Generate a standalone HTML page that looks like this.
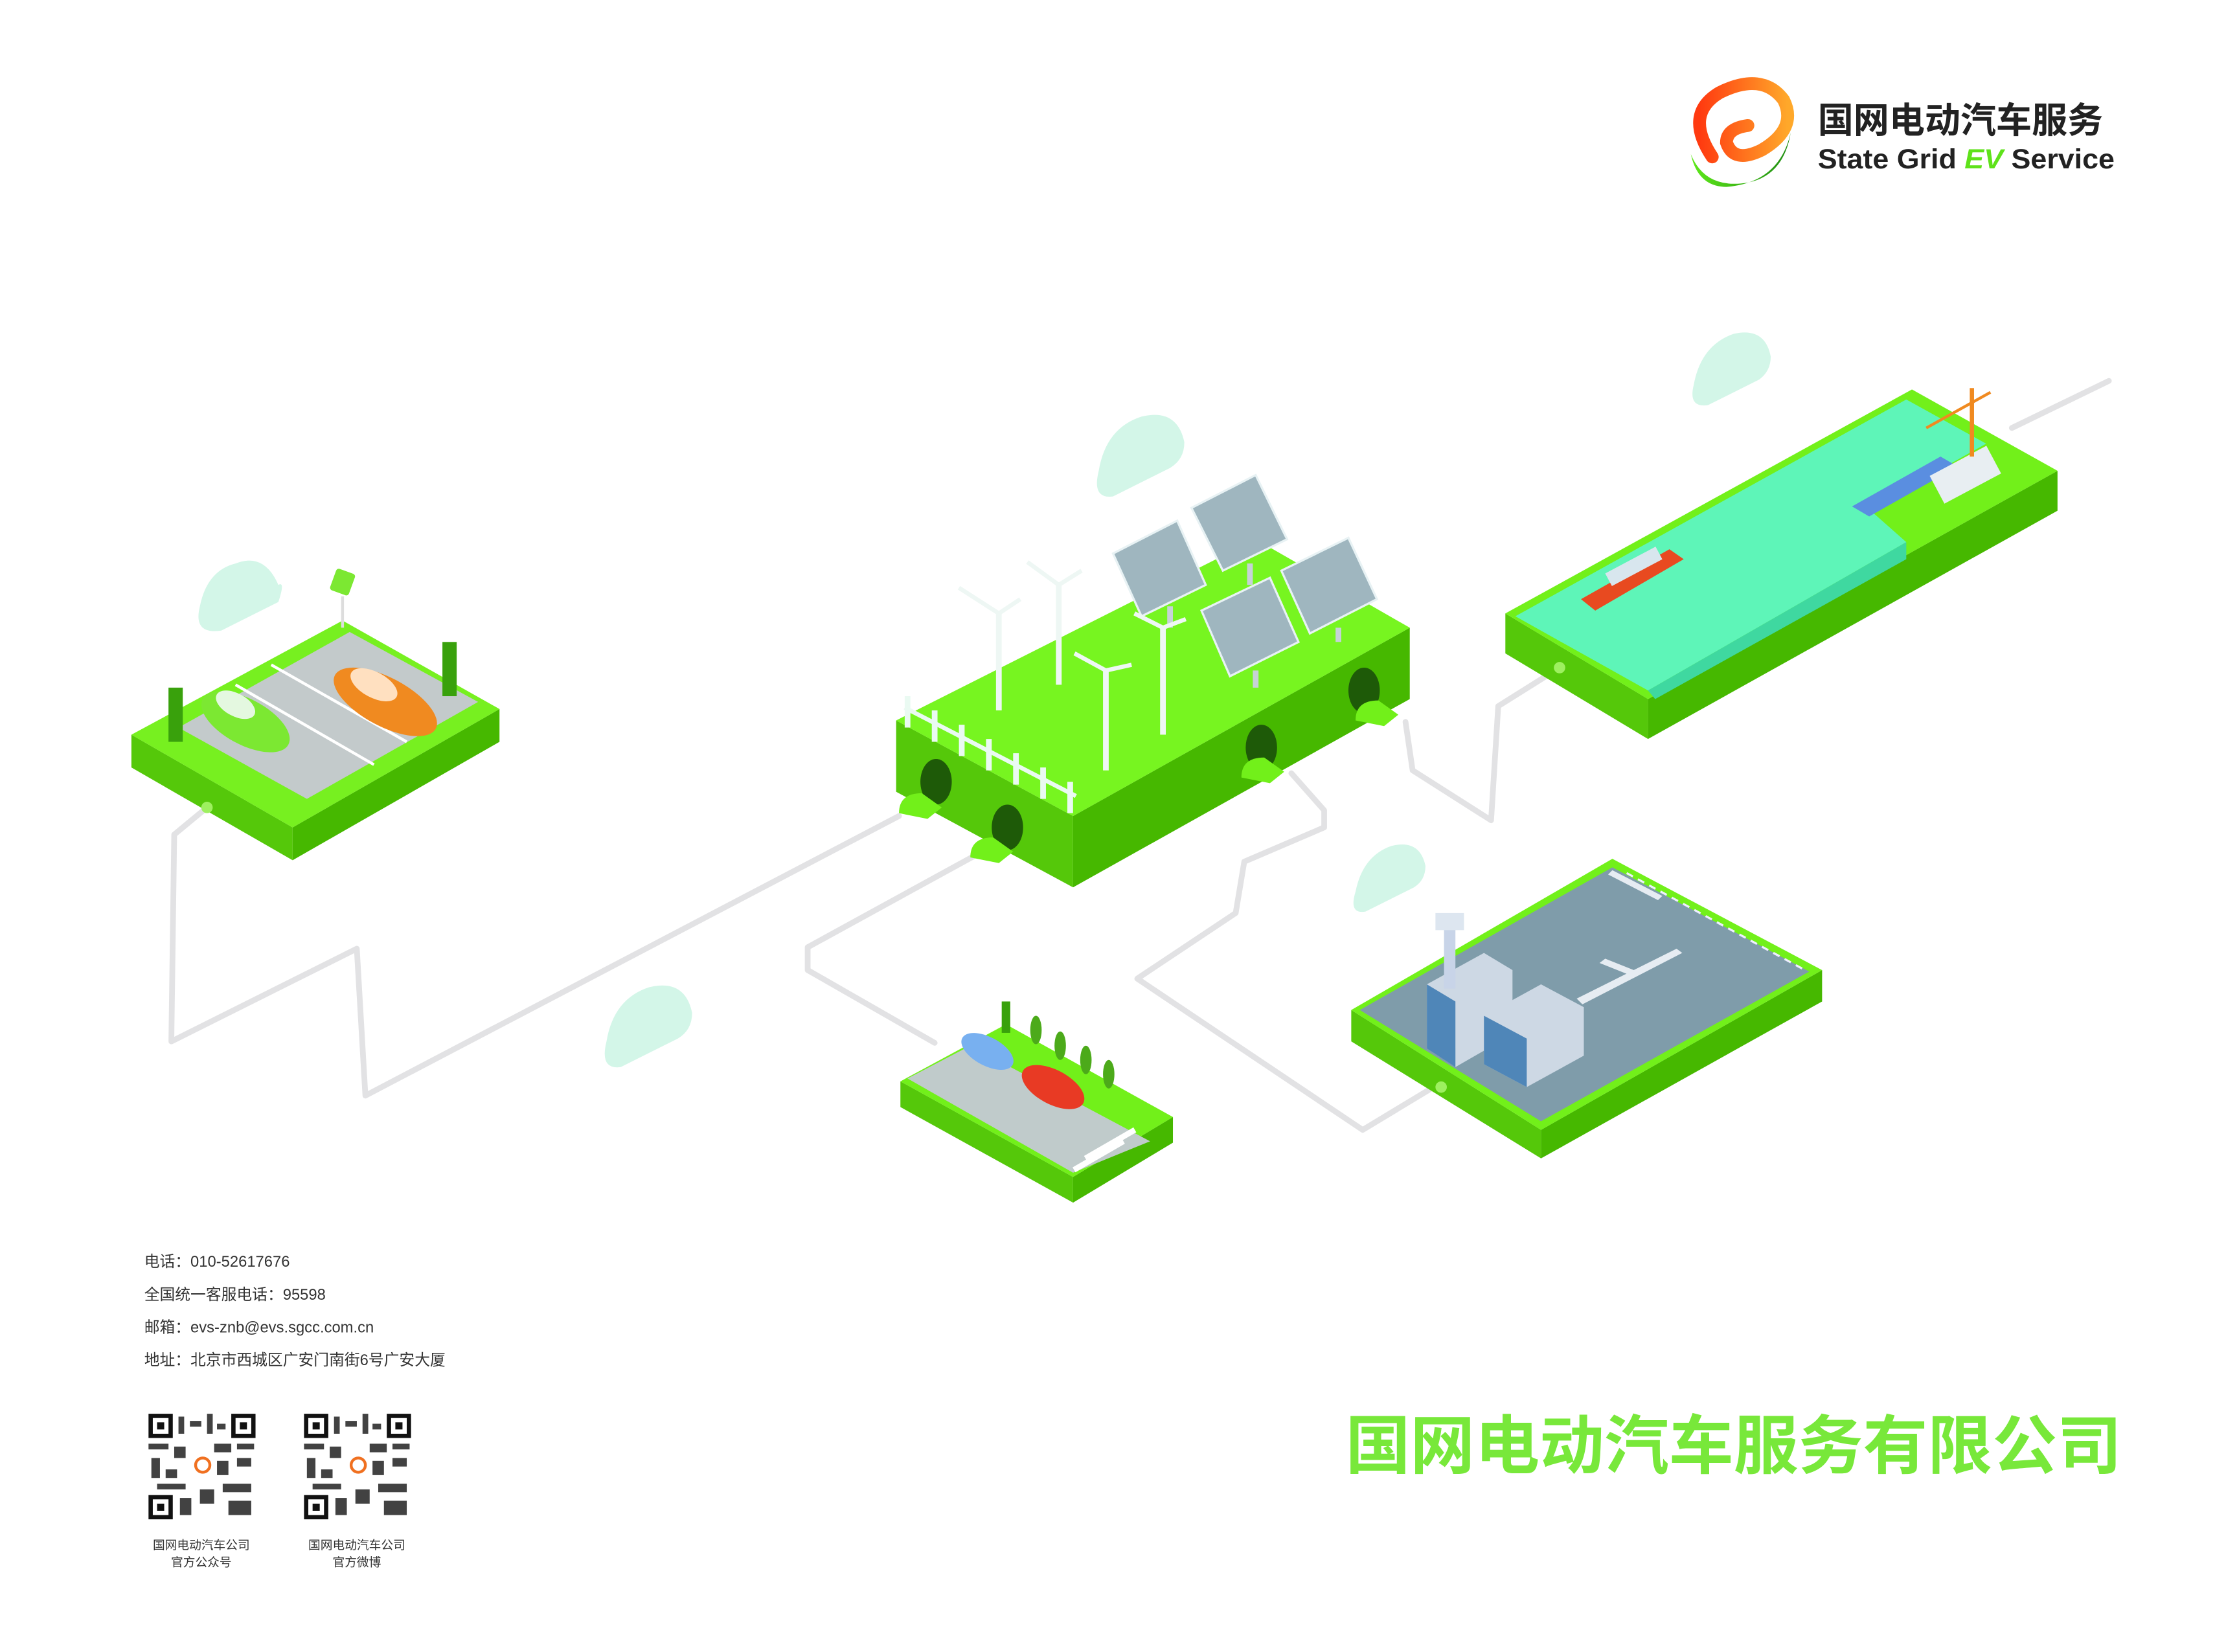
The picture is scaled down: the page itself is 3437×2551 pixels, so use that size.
<!DOCTYPE html>
<html><head><meta charset="utf-8"><style>
html,body{margin:0;padding:0;background:#fff;}
svg{display:block;}
text{font-family:"Liberation Sans","Noto Sans CJK SC",sans-serif;}
</style></head><body>
<svg width="3437" height="2551" viewBox="0 0 1560 1158" xmlns="http://www.w3.org/2000/svg">
<defs>
<linearGradient id="og" x1="0" x2="1"><stop offset="0" stop-color="#ff3a10"/><stop offset="1" stop-color="#ffa82a"/></linearGradient>
<linearGradient id="gg" x1="0" x2="1"><stop offset="0" stop-color="#5ee81a"/><stop offset="1" stop-color="#1e8c12"/></linearGradient>
</defs>
<rect width="1560" height="1158" fill="#fff"/>

<g fill="none" stroke="#e2e2e4" stroke-width="4" stroke-linejoin="round" stroke-linecap="round">
<path d="M145,566 L122,585 L120,730 L250,665 L256,768 L630,572"/>
<path d="M690,596 L566,664 L566,680 L655,731"/>
<path d="M905,542 L928,568 L928,580 L872,604 L866,640 L797,686 L955,792 L1008,760"/>
<path d="M985,506 L990,540 L1045,575 L1050,495 L1093,468"/>
<path d="M1410,300 L1478,267"/>
</g>

<g fill="#d3f6e8">
<path d="M140,425 q5,-25 25,-30 q20,-8 30,15 q5,-3 0,12 l-40,20 q-20,3 -15,-17z"/>
<path d="M770,330 q5,-30 30,-38 q25,-6 30,18 q0,12 -10,18 l-40,20 q-15,2 -10,-18z"/>
<path d="M1187,270 q5,-28 28,-36 q22,-5 26,16 q0,10 -8,16 l-36,18 q-14,2 -10,-14z"/>
<path d="M425,730 q5,-30 30,-38 q25,-6 30,18 q0,12 -10,18 l-40,20 q-15,2 -10,-18z"/>
<path d="M950,625 q5,-25 25,-32 q20,-5 24,14 q0,10 -8,15 l-34,17 q-12,2 -7,-14z"/>
</g>

<polygon points="92,515 205,580 205,603 92,538" fill="#55c80a"/>
<polygon points="205,580 350,497 350,520 205,603" fill="#46b800"/>
<polygon points="92,515 240,435 350,497 205,580" fill="#77f020"/>
<polygon points="125,510 245,443 335,492 215,560" fill="#c3cacb"/>
<line x1="165" y1="480" x2="262" y2="536" stroke="#fff" stroke-width="2"/>
<line x1="190" y1="466" x2="285" y2="520" stroke="#fff" stroke-width="2"/>
<g><ellipse cx="270" cy="492" rx="40" ry="17" fill="#f08a20" transform="rotate(28 270 492)"/><ellipse cx="262" cy="480" rx="18" ry="9" fill="#ffe0c0" transform="rotate(28 262 480)"/></g>
<g><ellipse cx="172" cy="506" rx="34" ry="16" fill="#7ce832" transform="rotate(28 172 506)"/><ellipse cx="165" cy="494" rx="15" ry="8" fill="#e4f8e0" transform="rotate(28 165 494)"/></g>
<rect x="118" y="482" width="10" height="38" fill="#39a10c"/><rect x="310" y="450" width="10" height="38" fill="#39a10c"/>
<rect x="233" y="400" width="14" height="16" rx="2" fill="#7ce832" transform="rotate(20 240 408)"/><line x1="240" y1="418" x2="240" y2="440" stroke="#ddd" stroke-width="2"/>
<circle cx="145" cy="566" r="4" fill="#9ef060"/>

<polygon points="628,505 752,572 752,622 628,555" fill="#55c80a"/>
<polygon points="752,572 988,440 988,490 752,622" fill="#46b800"/>
<polygon points="628,505 880,378 988,440 752,572" fill="#77f520"/>
<g stroke="#eafaf2" stroke-width="4">
<line x1="636" y1="488" x2="636" y2="510"/><line x1="655" y1="498" x2="655" y2="520"/><line x1="674" y1="508" x2="674" y2="530"/><line x1="693" y1="518" x2="693" y2="540"/><line x1="712" y1="528" x2="712" y2="550"/><line x1="731" y1="538" x2="731" y2="560"/><line x1="750" y1="548" x2="750" y2="570"/>
<line x1="634" y1="496" x2="754" y2="558" stroke-width="3"/>
</g>
<g fill="#1e5a08"><ellipse cx="656" cy="548" rx="11" ry="16"/><ellipse cx="706" cy="580" rx="11" ry="16"/><ellipse cx="884" cy="524" rx="11" ry="16"/><ellipse cx="956" cy="484" rx="11" ry="16"/></g>
<g fill="#72f01a"><path d="M630,570 q0,-14 16,-14 l14,10 l-10,8 z"/><path d="M680,601 q0,-14 16,-14 l14,10 l-10,8 z"/><path d="M870,545 q0,-14 16,-14 l14,10 l-10,8 z"/><path d="M950,505 q0,-14 16,-14 l14,10 l-10,8 z"/></g>
<g fill="#9fb6bf" stroke="#e8f2f4" stroke-width="1.5">
<polygon points="780,388 825,365 845,410 800,432"/>
<polygon points="835,356 880,333 902,378 857,400"/>
<polygon points="842,428 890,405 910,450 862,474"/>
<polygon points="898,400 945,377 965,420 918,444"/>
</g>
<g stroke="#c6d2d6" stroke-width="4"><line x1="820" y1="425" x2="820" y2="440"/><line x1="876" y1="395" x2="876" y2="410"/><line x1="880" y1="470" x2="880" y2="482"/><line x1="938" y1="440" x2="938" y2="450"/></g>
<g stroke="#eef7f4" stroke-width="4" fill="none">
<line x1="700" y1="430" x2="700" y2="498"/><line x1="742" y1="410" x2="742" y2="480"/><line x1="775" y1="470" x2="775" y2="540"/><line x1="815" y1="440" x2="815" y2="515"/>
<path d="M700,430 l-28,-18 M700,430 l15,-10 M742,410 l-22,-16 M742,410 l16,-10 M775,470 l-22,-12 M775,470 l18,-4 M815,440 l-20,-10 M815,440 l16,-6" stroke-width="3"/>
</g>

<polygon points="1055,430 1155,490 1155,518 1055,458" fill="#55c80a"/>
<polygon points="1155,490 1442,330 1442,358 1155,518" fill="#46b800"/>
<polygon points="1055,430 1340,273 1442,330 1155,490" fill="#72f01a"/>
<polygon points="1062,432 1336,280 1392,311 1310,357 1336,380 1155,484" fill="#5ef5b8"/>
<polygon points="1155,484 1336,380 1336,392 1160,490" fill="#3fd8a0"/>
<g><polygon points="1108,420 1170,385 1180,392 1118,428" fill="#e84a20"/><rect x="1125" y="392" width="40" height="10" fill="#d8e6ee" transform="rotate(-28 1145 397)"/></g>
<g><polygon points="1298,355 1360,320 1372,327 1310,362" fill="#5a8ee0"/><rect x="1355" y="322" width="45" height="22" fill="#e8eef2" transform="rotate(-28 1377 333)"/></g>
<line x1="1382" y1="272" x2="1382" y2="320" stroke="#f08a20" stroke-width="3"/><line x1="1350" y1="300" x2="1395" y2="275" stroke="#f08a20" stroke-width="2"/>
<circle cx="1093" cy="468" r="4" fill="#9ef060"/>

<polygon points="947,708 1080,792 1080,812 947,730" fill="#55c80a"/>
<polygon points="1080,792 1277,680 1277,702 1080,812" fill="#46b800"/>
<polygon points="947,708 1130,602 1277,680 1080,792" fill="#72f01a"/>
<polygon points="953,708 1130,608 1268,681 1080,786" fill="#7f9caa"/>
<line x1="1140" y1="612" x2="1265" y2="680" stroke="#eef" stroke-width="1.5" stroke-dasharray="5,4"/>
<g fill="#cdd8e4"><polygon points="1000,690 1040,668 1060,680 1060,725 1020,748 1000,735"/><polygon points="1040,712 1080,690 1110,706 1110,740 1070,762 1040,746"/></g>
<g fill="#4f86b8"><polygon points="1000,690 1020,702 1020,748 1000,735"/><polygon points="1040,712 1070,728 1070,762 1040,746"/></g>
<rect x="1012" y="648" width="8" height="45" fill="#c8d4e8"/><rect x="1006" y="640" width="20" height="12" fill="#dde6f0"/>
<g fill="#e6ecf2"><path d="M1105,700 l70,-35 l4,3 l-70,36z"/><path d="M1125,672 l25,10 l-4,3 l-25,-10z"/><path d="M1130,610 l35,18 l-3,3 l-35,-18z"/></g>
<circle cx="1010" cy="762" r="4" fill="#9ef060"/>

<polygon points="631,758 752,825 752,843 631,776" fill="#55c80a"/>
<polygon points="752,825 822,783 822,801 752,843" fill="#46b800"/>
<polygon points="631,758 705,718 822,783 752,825" fill="#72f01a"/>
<polygon points="636,756 680,733 806,800 752,822" fill="#c0cbcb"/>
<g fill="#fff"><rect x="758" y="800" width="40" height="4" transform="rotate(-30 778 802)"/><rect x="750" y="808" width="40" height="4" transform="rotate(-30 770 810)"/></g>
<ellipse cx="692" cy="737" rx="20" ry="10" fill="#78b0f0" transform="rotate(28 692 737)"/>
<ellipse cx="738" cy="762" rx="24" ry="12" fill="#e83a24" transform="rotate(28 738 762)"/>
<g fill="#4caa1a"><ellipse cx="726" cy="722" rx="4" ry="10"/><ellipse cx="743" cy="733" rx="4" ry="10"/><ellipse cx="761" cy="743" rx="4" ry="10"/><ellipse cx="777" cy="753" rx="4" ry="10"/></g>
<rect x="702" y="702" width="6" height="22" fill="#39a10c"/>

<g>
<path d="M1200,110 q-20,-30 5,-45 q30,-15 45,5 q10,20 -15,35 q-20,10 -25,-5 q0,-10 15,-12" fill="none" stroke="url(#og)" stroke-width="9" stroke-linecap="round"/>
<path d="M1185,108 q10,25 40,20 q25,-5 30,-35 q-8,35 -45,38 q-20,0 -25,-23z" fill="url(#gg)"/>
<text x="1274" y="93" font-size="25" font-weight="bold" fill="#222">国网电动汽车服务</text>
<text x="1274" y="118" font-size="19.5" font-weight="bold" fill="#222" textLength="208" lengthAdjust="spacingAndGlyphs">State Grid <tspan fill="#5ee21a" font-style="italic">EV</tspan> Service</text>
</g>

<g font-size="10.8" fill="#333">
<text x="101" y="888">电话：010-52617676</text>
<text x="101" y="911">全国统一客服电话：95598</text>
<text x="101" y="934">邮箱：evs-znb@evs.sgcc.com.cn</text>
<text x="101" y="957">地址：北京市西城区广安门南街6号广安大厦</text>
</g>
<g>
<g fill="#111">
<rect x="104" y="991" width="17" height="17"/><rect x="162" y="991" width="17" height="17"/><rect x="104" y="1048" width="17" height="17"/>
<rect x="213" y="991" width="17" height="17"/><rect x="271" y="991" width="17" height="17"/><rect x="213" y="1048" width="17" height="17"/>
</g>
<g fill="#fff"><rect x="107" y="994" width="11" height="11"/><rect x="165" y="994" width="11" height="11"/><rect x="107" y="1051" width="11" height="11"/><rect x="216" y="994" width="11" height="11"/><rect x="274" y="994" width="11" height="11"/><rect x="216" y="1051" width="11" height="11"/></g>
<g fill="#111"><rect x="110" y="997" width="5" height="5"/><rect x="168" y="997" width="5" height="5"/><rect x="110" y="1054" width="5" height="5"/><rect x="219" y="997" width="5" height="5"/><rect x="277" y="997" width="5" height="5"/><rect x="219" y="1054" width="5" height="5"/></g>
<g fill="#222" opacity="0.85">
<rect x="125" y="993" width="4" height="12"/><rect x="133" y="996" width="8" height="4"/><rect x="145" y="991" width="4" height="14"/><rect x="152" y="998" width="6" height="4"/>
<rect x="104" y="1012" width="14" height="4"/><rect x="122" y="1014" width="8" height="8"/><rect x="150" y="1012" width="12" height="6"/><rect x="166" y="1012" width="12" height="4"/>
<rect x="106" y="1022" width="6" height="14"/><rect x="116" y="1030" width="8" height="6"/><rect x="152" y="1024" width="8" height="10"/><rect x="166" y="1022" width="10" height="6"/>
<rect x="110" y="1040" width="20" height="4"/><rect x="140" y="1044" width="10" height="10"/><rect x="156" y="1040" width="20" height="6"/><rect x="126" y="1050" width="8" height="12"/><rect x="160" y="1052" width="16" height="10"/>
<rect x="234" y="993" width="4" height="12"/><rect x="242" y="996" width="8" height="4"/><rect x="254" y="991" width="4" height="14"/><rect x="261" y="998" width="6" height="4"/>
<rect x="213" y="1012" width="14" height="4"/><rect x="231" y="1014" width="8" height="8"/><rect x="259" y="1012" width="12" height="6"/><rect x="275" y="1012" width="12" height="4"/>
<rect x="215" y="1022" width="6" height="14"/><rect x="225" y="1030" width="8" height="6"/><rect x="261" y="1024" width="8" height="10"/><rect x="275" y="1022" width="10" height="6"/>
<rect x="219" y="1040" width="20" height="4"/><rect x="249" y="1044" width="10" height="10"/><rect x="265" y="1040" width="20" height="6"/><rect x="235" y="1050" width="8" height="12"/><rect x="269" y="1052" width="16" height="10"/>
</g>
<rect x="133" y="1018" width="18" height="18" rx="3" fill="#fff"/><circle cx="142" cy="1027" r="5" fill="none" stroke="#f07020" stroke-width="2"/>
<rect x="242" y="1018" width="18" height="18" rx="3" fill="#fff"/><circle cx="251" cy="1027" r="5" fill="none" stroke="#f07020" stroke-width="2"/>
</g>
<g font-size="8.5" fill="#333" text-anchor="middle">
<text x="141" y="1086">国网电动汽车公司</text><text x="141" y="1098">官方公众号</text>
<text x="250" y="1086">国网电动汽车公司</text><text x="250" y="1098">官方微博</text>
</g>

<text x="943" y="1029" font-size="45" font-weight="bold" fill="#78e83a" textLength="544" lengthAdjust="spacingAndGlyphs">国网电动汽车服务有限公司</text>
</svg>
</body></html>
